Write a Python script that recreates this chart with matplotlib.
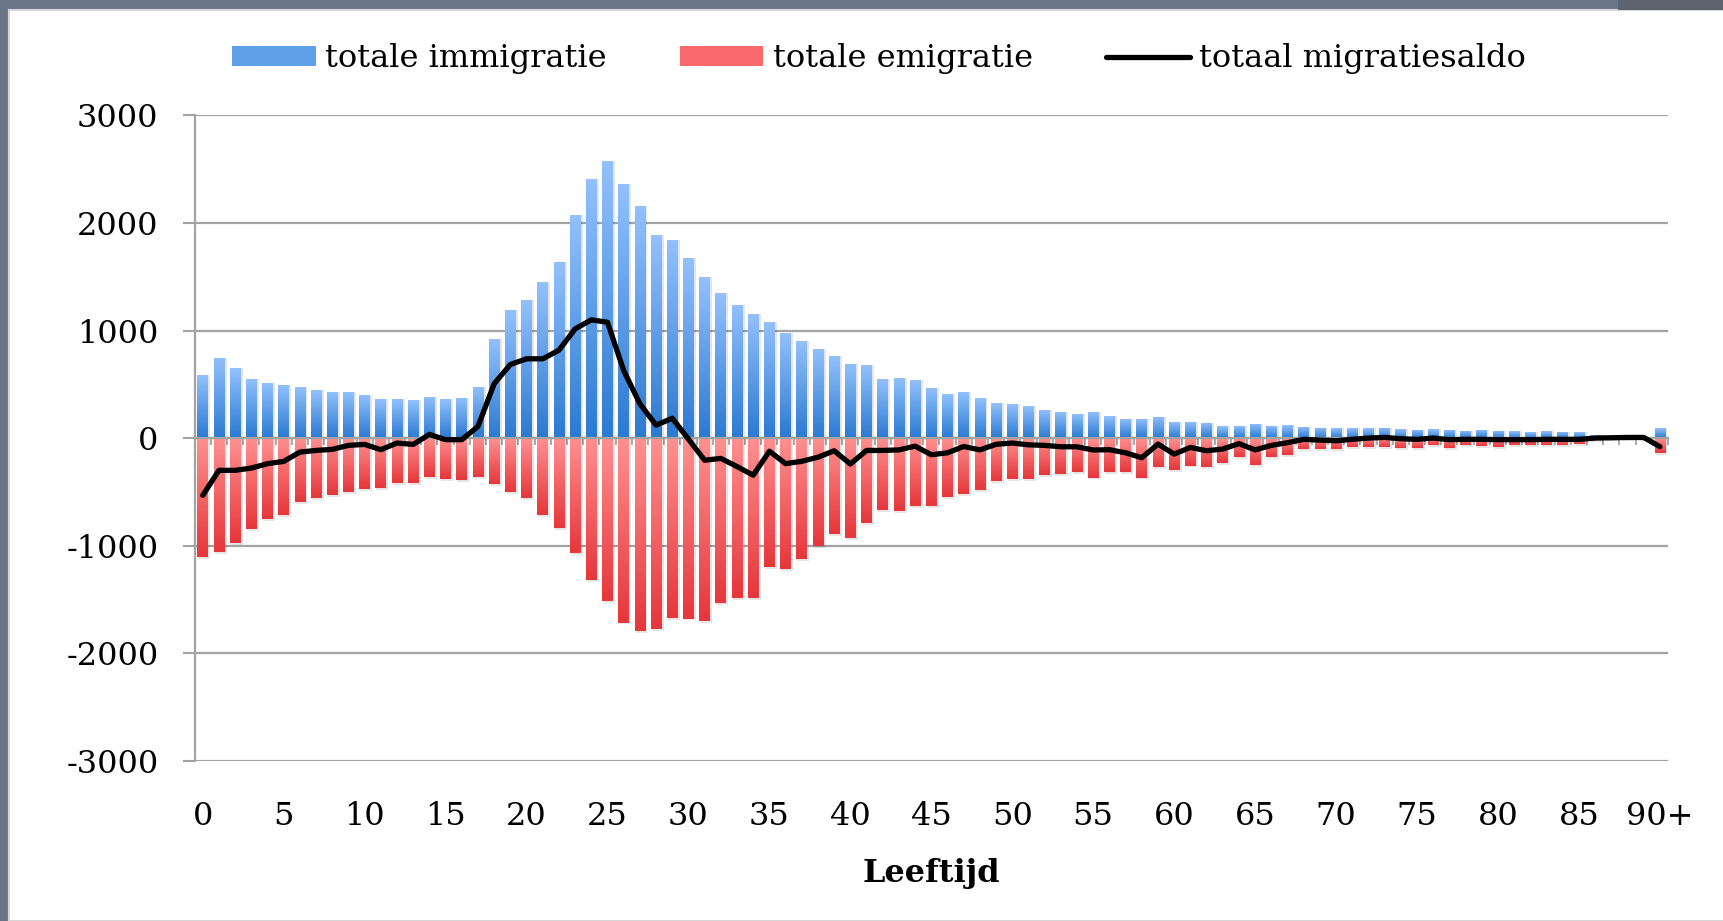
""" Migratie naar leeftijd
"""

import numpy as np
import matplotlib
matplotlib.use('Agg')
import matplotlib.pyplot as plt
from matplotlib.colors import LinearSegmentedColormap
from matplotlib.patches import Rectangle, Patch
from matplotlib.lines import Line2D

# Leeftijden 0..89 en 90+
ages = [str(a) for a in range(90)] + ['90+']
tick_labels = ['0', '5', '10', '15', '20', '25', '30', '35', '40', '45',
               '50', '55', '60', '65', '70', '75', '80', '85', '90+']

immigratie = [
    582, 749, 650, 551, 508, 495, 471, 446, 433, 433,
    402, 359, 362, 350, 384, 362, 372, 477, 923, 1189,
    1288, 1449, 1635, 2074, 2409, 2573, 2362, 2155, 1890, 1846,
    1670, 1495, 1346, 1238, 1150, 1076, 981, 901, 828, 759,
    692, 675, 546, 558, 540, 466, 408, 432, 370, 322,
    313, 295, 265, 243, 228, 245, 202, 180, 180, 196,
    152, 152, 140, 109, 112, 135, 115, 118, 105, 98,
    90, 92, 92, 95, 80, 76, 80, 78, 68, 75,
    68, 62, 54, 62, 58, 52, 25, 10, 8, 8,
    90]

emigratie = [
    -1105, -1059, -972, -842, -749, -718, -594, -557, -533, -502,
    -471, -464, -415, -415, -365, -384, -390, -365, -427, -502,
    -557, -718, -836, -1065, -1322, -1514, -1715, -1793, -1776, -1672,
    -1678, -1705, -1533, -1490, -1490, -1200, -1218, -1122, -1008, -889,
    -932, -793, -667, -680, -634, -630, -550, -518, -487, -396,
    -378, -378, -346, -337, -316, -367, -315, -320, -367, -267,
    -298, -255, -273, -230, -180, -250, -176, -155, -105, -105,
    -99, -84, -84, -84, -93, -93, -68, -93, -68, -77,
    -84, -68, -62, -68, -62, -53, -20, -10, -8, -8,
    -136]

saldo = [
    -533, -300, -300, -279, -238, -217, -130, -115, -105, -68,
    -59, -108, -46, -59, 34, -15, -15, 108, 505, 684,
    737, 737, 817, 1015, 1099, 1077, 628, 319, 120, 184,
    -10, -206, -189, -265, -345, -122, -238, -216, -178, -118,
    -241, -115, -115, -110, -75, -155, -137, -78, -110, -58,
    -46, -63, -68, -81, -81, -111, -108, -137, -183, -56,
    -149, -87, -118, -102, -52, -110, -68, -43, -12, -19,
    -25, -12, 0, 6, -6, -12, 0, -15, -12, -12,
    -15, -15, -15, -12, -12, -12, 0, 3, 6, 6,
    -80]

y_ticks = [-3000, -2000, -1000, 0, 1000, 2000, 3000]

FONT = 'DejaVu Serif'
FS = 23
GRID = '#a3a3a3'
BLUE_CM = LinearSegmentedColormap.from_list('blauw', ['#2b7ad2', '#92c1fc'])
RED_CM = LinearSegmentedColormap.from_list('rood', ['#e6373b', '#ff9090'])

plt.rcParams['font.family'] = FONT

fig = plt.figure(figsize=(17.24, 9.21), dpi=100)
fig.patch.set_facecolor('#6b7588')
# witte kaart met rand
fig.add_artist(Rectangle((9 / 1724, 0), 1, 1 - 10 / 921, transform=fig.transFigure,
                         facecolor='white', edgecolor='#d6d6d6', lw=1.5, zorder=0))
fig.add_artist(Rectangle((1618 / 1724, 1 - 10 / 921), 1, 10 / 921, transform=fig.transFigure,
                         facecolor='#5d636f', edgecolor='none', zorder=0))

ax = fig.add_axes([0.1129, 0.174, 0.8546, 0.7007])
ax.set_facecolor('none')

x = np.arange(len(ages))
width = 0.66

# schaduw onder de staven
ax.bar(x + 0.1, immigratie, width=0.74, color='k', alpha=0.10, zorder=1.5, lw=0)
ax.bar(x + 0.1, np.array(emigratie) - 18, width=0.74, color='k', alpha=0.10, zorder=1.5, lw=0)

bars_imm = ax.bar(x, immigratie, width=width, color='none', lw=0, zorder=2)
bars_emi = ax.bar(x, emigratie, width=width, color='none', lw=0, zorder=2)

grad = np.linspace(0, 1, 64).reshape(-1, 1)
for bars, cmap in ((bars_imm, BLUE_CM), (bars_emi, RED_CM)):
    for b in bars:
        x0, y0 = b.get_x(), b.get_y()
        w, h = b.get_width(), b.get_height()
        y_lo, y_hi = min(y0, y0 + h), max(y0, y0 + h)
        im = ax.imshow(grad, cmap=cmap, origin='lower', aspect='auto',
                       extent=(x0, x0 + w, y_lo, y_hi), zorder=2.1,
                       interpolation='bilinear')
        im.set_clip_path(b)

ax.plot(x, saldo, color='black', lw=3.8, solid_joinstyle='round',
        solid_capstyle='round', zorder=5)

ax.set_xlim(-0.5, len(ages) - 0.5)
ax.set_ylim(-3000, 3000)

# y-as
ax.set_yticks(y_ticks)
ax.set_yticklabels([str(v) for v in y_ticks])
ax.tick_params(axis='y', length=9, width=1.5, color=GRID, pad=17, labelsize=FS)
ax.yaxis.grid(True, color=GRID, lw=1.6)
ax.set_axisbelow(True)

for s in ('top', 'right'):
    ax.spines[s].set_visible(False)
ax.spines['left'].set_color(GRID)
ax.spines['left'].set_linewidth(1.6)
ax.spines['bottom'].set_position(('data', 0))
ax.spines['bottom'].set_color(GRID)
ax.spines['bottom'].set_linewidth(1.6)

# kleine streepjes op de nullijn tussen de categorieen
ax.set_xticks([])
ax.set_xticks(np.arange(-0.5, len(ages), 1), minor=True)
ax.tick_params(axis='x', which='minor', length=5, width=1.3, color=GRID, direction='out')

# labels onderaan
sec = ax.secondary_xaxis(0.0)
tick_pos = [ages.index(t) for t in tick_labels]
sec.set_xticks(tick_pos)
sec.set_xticklabels(tick_labels)
sec.tick_params(length=0, pad=29, labelsize=FS)
sec.spines['bottom'].set_visible(False)
sec.set_xlabel('Leeftijd', fontsize=FS, fontweight='bold', labelpad=19)

handles = [
    Patch(facecolor='#5fa0ea', edgecolor='none', label='totale immigratie'),
    Patch(facecolor='#f86a6c', edgecolor='none', label='totale emigratie'),
    Line2D([0], [0], color='black', lw=3.8, solid_capstyle='round', label='totaal migratiesaldo'),
]
fig.legend(handles=handles, loc='center', bbox_to_anchor=(0.510, 0.936), ncol=3,
           frameon=False, fontsize=FS, handlelength=2.6, handleheight=0.6,
           handletextpad=0.3, columnspacing=2.3)

fig.savefig('out.png', dpi=100, facecolor=fig.get_facecolor())
